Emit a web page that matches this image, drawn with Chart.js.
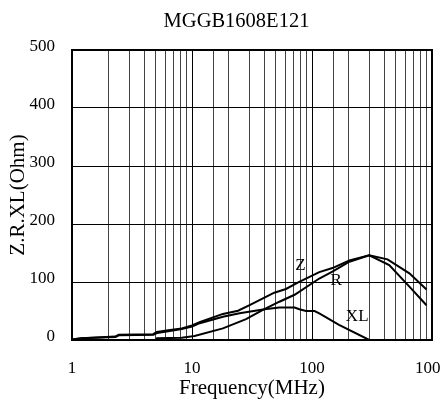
<!DOCTYPE html>
<html>
<head>
<meta charset="utf-8">
<script src="https://cdn.jsdelivr.net/npm/chart.js@4.4.1/dist/chart.umd.min.js"></script>
<style>
  html, body { margin: 0; padding: 0; background: #fff; overflow: hidden; }
  #wrap { position: relative; width: 467px; height: 399px; }
</style>
</head>
<body>
<div id="wrap"><canvas id="chartCanvas"></canvas></div>
<script>
"use strict";

// values (frequency in MHz, impedance in Ohm)
const zFreq = [1, 1.2, 2.3, 2.45, 4.75, 5.1, 6.35, 8.2, 10, 11.7, 18.1, 24.2, 30.2, 42.9, 48.5, 60.7, 76, 115, 148, 205, 300, 426, 648, 900];
const zValues = [1, 3, 6, 9, 10, 14, 17, 20, 25, 31, 45, 50.5, 60, 76, 81.6, 88, 99, 117, 124, 137, 146, 139, 115, 87];

const rFreq = [1, 5.0, 5.1, 8.2, 10.5, 18.1, 28.2, 39, 53.5, 71.6, 115, 148, 205, 300, 440, 648, 900];
const rValues = [0, 0, 3, 4, 7, 20, 36, 52, 66, 78, 106, 118, 135, 146, 129, 92, 60];

const xlFreq = [1, 1.2, 2.3, 2.45, 4.75, 5.1, 6.35, 8.2, 10, 11.6, 18.1, 24.9, 40.3, 53.5, 71.6, 78.5, 89, 105, 115, 168, 300];
const xlValues = [1, 3, 5, 8, 9, 12, 15, 19, 23, 29, 40, 46, 53, 56, 56, 53, 50, 50, 46, 26, 0];

// curve name labels: [text, frequency, value]
const curveLabels = [
    ["Z", 80, 129],
    ["R", 159, 103],
    ["XL", 238, 41]
];

const yTicks = [0, 100, 200, 300, 400, 500];

function toPoints(xs, ys) {
    return xs.map(function (x, i) { return { x: x, y: ys[i] }; });
}

function isDecade(v) {
    const l = Math.log10(v);
    return Math.abs(l - Math.round(l)) < 1e-9;
}

const serif = "'Liberation Serif', 'Times New Roman', serif";

const frameAndLabels = {
    id: "frameAndLabels",
    afterDatasetsDraw(chart) {
        const ctx = chart.ctx;
        const a = chart.chartArea;
        const xs = chart.scales.x;
        const ys = chart.scales.y;
        ctx.save();
        ctx.strokeStyle = "#000";
        ctx.lineWidth = 2;
        ctx.strokeRect(a.left, a.top, a.right - a.left, a.bottom - a.top);
        ctx.fillStyle = "#000";
        ctx.font = "17px " + serif;
        ctx.textAlign = "center";
        ctx.textBaseline = "middle";
        curveLabels.forEach(function (lab) {
            ctx.fillText(lab[0], xs.getPixelForValue(lab[1]), ys.getPixelForValue(lab[2]));
        });
        ctx.restore();
    }
};

const lineStyle = {
    borderColor: "#000",
    borderWidth: 2,
    pointRadius: 0,
    tension: 0,
    fill: false
};

new Chart(document.getElementById("chartCanvas"), {
    type: "line",
    data: {
        datasets: [
            Object.assign({ label: "Z", data: toPoints(zFreq, zValues) }, lineStyle),
            Object.assign({ label: "R", data: toPoints(rFreq, rValues) }, lineStyle),
            Object.assign({ label: "XL", data: toPoints(xlFreq, xlValues) }, lineStyle)
        ]
    },
    options: {
        responsive: true,
        maintainAspectRatio: false,
        animation: false,
        layout: { padding: { left: 6, right: 0, top: 0, bottom: 0 } },
        plugins: {
            legend: { display: false },
            tooltip: { enabled: false },
            title: {
                display: true,
                text: "MGGB1608E121",
                color: "#000",
                font: { family: serif, size: 20.5, weight: "normal" },
                padding: { top: 9, bottom: 16.4 }
            }
        },
        scales: {
            x: {
                type: "logarithmic",
                min: 1,
                max: 1000,
                border: { display: false },
                afterFit: function (axis) { axis.height = 59; },
                grid: {
                    drawTicks: false,
                    color: function (c) { return isDecade(c.tick.value) ? "#000" : "#444"; },
                    lineWidth: 1
                },
                ticks: {
                    autoSkip: false,
                    maxRotation: 0,
                    padding: 18,
                    color: "#000",
                    font: { family: serif, size: 17 },
                    callback: function (v) { return isDecade(v) ? String(v) : ""; }
                },
                title: {
                    display: true,
                    text: "Frequency(MHz)",
                    color: "#000",
                    font: { family: serif, size: 21 },
                    padding: { top: 0, bottom: -2 }
                }
            },
            y: {
                min: 0,
                max: 500,
                border: { display: false },
                afterFit: function (axis) { axis.width = 66; },
                afterBuildTicks: function (axis) {
                    axis.ticks = yTicks.map(function (v) { return { value: v }; });
                },
                grid: { drawTicks: false, color: "#000", lineWidth: 1 },
                ticks: {
                    padding: 17,
                    labelOffset: -3,
                    color: "#000",
                    font: { family: serif, size: 17 }
                },
                title: {
                    display: true,
                    text: "Z.R.XL(Ohm)",
                    color: "#000",
                    font: { family: serif, size: 21 },
                    padding: { top: 0, bottom: 0 }
                }
            }
        }
    },
    plugins: [frameAndLabels]
});
</script>
</body>
</html>
